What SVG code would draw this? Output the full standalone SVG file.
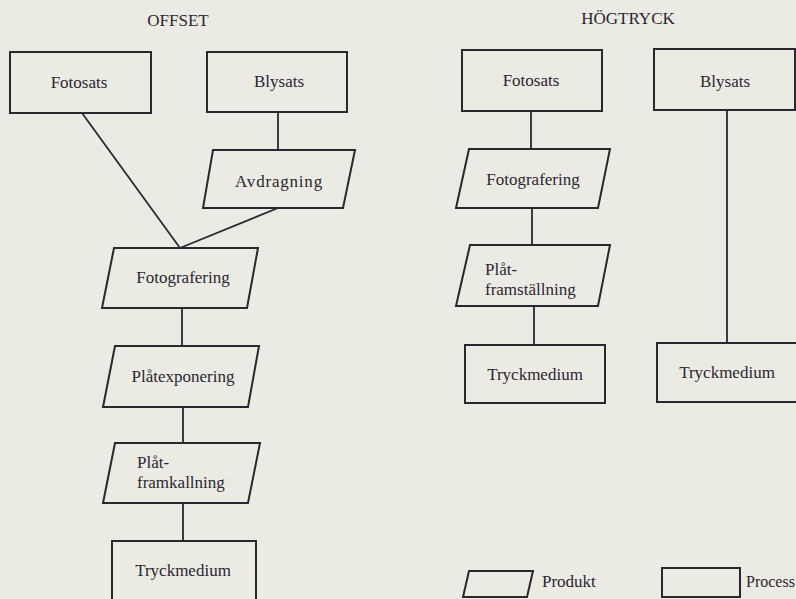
<svg xmlns="http://www.w3.org/2000/svg" width="796" height="599" viewBox="0 0 796 599">
<style>
.s{fill:none;stroke:#2b2630;stroke-width:2;stroke-linejoin:miter}
.c{fill:none;stroke:#2b2630;stroke-width:1.8}
text{font-family:"Liberation Serif","Times New Roman",serif;font-size:17px;fill:#2b2630}
.m{text-anchor:middle}
</style>
<rect x="0" y="0" width="796" height="599" fill="#ebebe4"/>
<text class="m" x="178" y="26">OFFSET</text>
<text class="m" x="628" y="24">HÖGTRYCK</text>
<g id="connectors">
<line class="c" x1="82" y1="113" x2="180" y2="248"/>
<line class="c" x1="278" y1="112" x2="278" y2="150"/>
<line class="c" x1="278" y1="208" x2="180" y2="248"/>
<line class="c" x1="182" y1="308" x2="182" y2="346"/>
<line class="c" x1="183" y1="407" x2="183" y2="443"/>
<line class="c" x1="183" y1="503" x2="183" y2="541"/>
<line class="c" x1="531" y1="111" x2="531" y2="149"/>
<line class="c" x1="532" y1="208" x2="532" y2="245"/>
<line class="c" x1="534" y1="306" x2="534" y2="345"/>
<line class="c" x1="727" y1="110" x2="727" y2="343"/>
</g>
<g id="o-fotosats"><rect class="s" x="10" y="52" width="141" height="61"/><text class="m" x="79" y="88">Fotosats</text></g>
<g id="o-blysats"><rect class="s" x="207" y="52" width="140" height="60"/><text class="m" x="279" y="87">Blysats</text></g>
<g id="o-avdragning"><polygon class="s" points="213,150 355,150 343,208 203,208"/><text class="m" x="279" y="187" letter-spacing="0.8">Avdragning</text></g>
<g id="o-fotografering"><polygon class="s" points="114,248 258,248 247,308 102,308"/><text class="m" x="183" y="283">Fotografering</text></g>
<g id="o-platexponering"><polygon class="s" points="115,346 259,346 248,407 103,407"/><text class="m" x="183" y="382">Plåtexponering</text></g>
<g id="o-platframkallning"><polygon class="s" points="115,443 260,443 248,503 103,503"/><text x="137" y="468">Plåt-</text><text x="137" y="488">framkallning</text></g>
<g id="o-tryckmedium"><rect class="s" x="112" y="541" width="144" height="70"/><text class="m" x="183" y="576">Tryckmedium</text></g>
<g id="h-fotosats"><rect class="s" x="462" y="50" width="140" height="61"/><text class="m" x="531" y="86">Fotosats</text></g>
<g id="h-blysats"><rect class="s" x="654" y="49" width="141" height="61"/><text class="m" x="725" y="87">Blysats</text></g>
<g id="h-fotografering"><polygon class="s" points="469,149 610,149 598,208 456,208"/><text class="m" x="533" y="185">Fotografering</text></g>
<g id="h-platframstallning"><polygon class="s" points="470,245 610,245 598,306 456,306"/><text x="485" y="275">Plåt-</text><text x="485" y="295">framställning</text></g>
<g id="h-tryckmedium1"><rect class="s" x="465" y="345" width="140" height="58"/><text class="m" x="535" y="380">Tryckmedium</text></g>
<g id="h-tryckmedium2"><rect class="s" x="657" y="343" width="141" height="59"/><text class="m" x="727" y="378">Tryckmedium</text></g>
<g id="legend-produkt"><polygon class="s" points="469,571 533,571 527,597 463,597"/><text x="542" y="587">Produkt</text></g>
<g id="legend-process"><rect class="s" x="662" y="568" width="78" height="29"/><text x="746" y="587" style="font-size:16px">Process</text></g>
</svg>
